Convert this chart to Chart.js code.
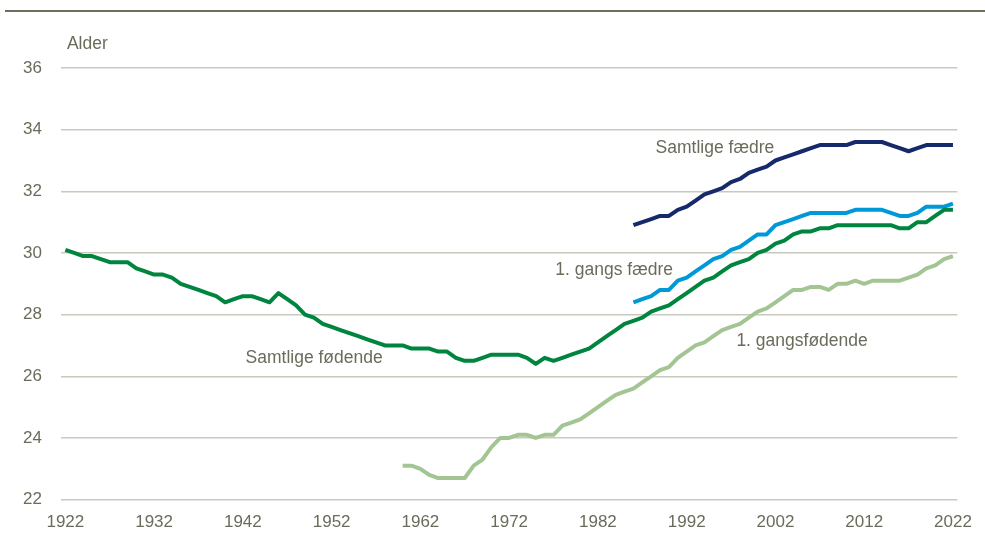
<!DOCTYPE html>
<html>
<head>
<meta charset="utf-8">
<script src="https://cdn.jsdelivr.net/npm/chart.js@4"></script>
<style>
  html, body { margin: 0; padding: 0; background: #fff; overflow: hidden; }
  canvas { display: block; }
</style>
</head>
<body>
<canvas id="graph" width="985" height="534"></canvas>
<script>
// Gennemsnitsalder, år 1922-2022
const xTicks = [1922, 1932, 1942, 1952, 1962, 1972, 1982, 1992, 2002, 2012, 2022];
const yTicks = [22, 24, 26, 28, 30, 32, 34, 36];

const samtligeFodendeStart = 1922;
const samtligeFodende = [
  30.1, 30.0, 29.9, 29.9, 29.8, 29.7, 29.7, 29.7, 29.5, 29.4,
  29.3, 29.3, 29.2, 29.0, 28.9, 28.8, 28.7, 28.6, 28.4, 28.5,
  28.6, 28.6, 28.5, 28.4, 28.7, 28.5, 28.3, 28.0, 27.9, 27.7,
  27.6, 27.5, 27.4, 27.3, 27.2, 27.1, 27.0, 27.0, 27.0, 26.9,
  26.9, 26.9, 26.8, 26.8, 26.6, 26.5, 26.5, 26.6, 26.7, 26.7,
  26.7, 26.7, 26.6, 26.4, 26.6, 26.5, 26.6, 26.7, 26.8, 26.9,
  27.1, 27.3, 27.5, 27.7, 27.8, 27.9, 28.1, 28.2, 28.3, 28.5,
  28.7, 28.9, 29.1, 29.2, 29.4, 29.6, 29.7, 29.8, 30.0, 30.1,
  30.3, 30.4, 30.6, 30.7, 30.7, 30.8, 30.8, 30.9, 30.9, 30.9,
  30.9, 30.9, 30.9, 30.9, 30.8, 30.8, 31.0, 31.0, 31.2, 31.4,
  31.4
];

const forstegangsFodendeStart = 1960;
const forstegangsFodende = [
  23.1, 23.1, 23.0, 22.8, 22.7, 22.7, 22.7, 22.7, 23.1, 23.3,
  23.7, 24.0, 24.0, 24.1, 24.1, 24.0, 24.1, 24.1, 24.4, 24.5,
  24.6, 24.8, 25.0, 25.2, 25.4, 25.5, 25.6, 25.8, 26.0, 26.2,
  26.3, 26.6, 26.8, 27.0, 27.1, 27.3, 27.5, 27.6, 27.7, 27.9,
  28.1, 28.2, 28.4, 28.6, 28.8, 28.8, 28.9, 28.9, 28.8, 29.0,
  29.0, 29.1, 29.0, 29.1, 29.1, 29.1, 29.1, 29.2, 29.3, 29.5,
  29.6, 29.8, 29.9
];

const faedreStart = 1986;
const samtligeFaedre = [
  30.9, 31.0, 31.1, 31.2, 31.2, 31.4, 31.5, 31.7, 31.9, 32.0,
  32.1, 32.3, 32.4, 32.6, 32.7, 32.8, 33.0, 33.1, 33.2, 33.3,
  33.4, 33.5, 33.5, 33.5, 33.5, 33.6, 33.6, 33.6, 33.6, 33.5,
  33.4, 33.3, 33.4, 33.5, 33.5, 33.5, 33.5
];
const forstegangsFaedre = [
  28.4, 28.5, 28.6, 28.8, 28.8, 29.1, 29.2, 29.4, 29.6, 29.8,
  29.9, 30.1, 30.2, 30.4, 30.6, 30.6, 30.9, 31.0, 31.1, 31.2,
  31.3, 31.3, 31.3, 31.3, 31.3, 31.4, 31.4, 31.4, 31.4, 31.3,
  31.2, 31.2, 31.3, 31.5, 31.5, 31.5, 31.6
];

const textColor = "#6b6b5b";
const fontFamily = "'Liberation Sans', Arial, sans-serif";

const toPoints = (start, values) => values.map((v, i) => ({ x: start + i, y: v }));

const line = (label, start, values, color) => ({
  label,
  data: toPoints(start, values),
  borderColor: color,
  backgroundColor: color,
  borderWidth: 4,
  pointRadius: 0,
  tension: 0,
  borderJoinStyle: "round",
  borderCapStyle: "butt"
});

// streg i toppen, "Alder" og serienavne ved linjerne
const decorations = {
  id: "decorations",
  afterDraw(chart) {
    const { ctx, scales } = chart;
    const x = scales.x;
    const y = scales.y;
    ctx.save();
    ctx.fillStyle = "#6f6f5f";
    ctx.fillRect(5, 10, 980, 2);

    ctx.fillStyle = textColor;
    ctx.font = "17.5px " + fontFamily;
    ctx.textBaseline = "middle";
    ctx.textAlign = "left";
    ctx.fillText("Alder", chart.chartArea.left + 6, 44);

    const notes = [
      ["Samtlige fædre", 1988.5, 33.4],
      ["1. gangs fædre", 1977.2, 29.45],
      ["1. gangsfødende", 1997.6, 27.15],
      ["Samtlige fødende", 1942.3, 26.6]
    ];
    notes.forEach(([text, px, py]) => {
      ctx.fillText(text, x.getPixelForValue(px), y.getPixelForValue(py));
    });
    ctx.restore();
  }
};

new Chart(document.getElementById("graph"), {
  type: "line",
  data: {
    datasets: [
      line("Samtlige fødende", samtligeFodendeStart, samtligeFodende, "#00853f"),
      line("1. gangsfødende", forstegangsFodendeStart, forstegangsFodende, "#a3c594"),
      line("1. gangs fædre", faedreStart, forstegangsFaedre, "#0099d8"),
      line("Samtlige fædre", faedreStart, samtligeFaedre, "#15296b")
    ]
  },
  options: {
    responsive: false,
    animation: false,
    layout: { padding: { left: 4, right: 27, top: 68, bottom: -12 } },
    plugins: {
      legend: { display: false },
      tooltip: { enabled: false }
    },
    scales: {
      x: {
        type: "linear",
        min: 1921.5,
        max: 2022.5,
        afterBuildTicks: scale => {
          scale.ticks = xTicks.map(v => ({ value: v }));
        },
        grid: { display: false, drawTicks: false },
        border: { display: false },
        ticks: {
          color: textColor,
          padding: 13,
          maxRotation: 0,
          autoSkip: false,
          font: { family: fontFamily, size: 17 },
          callback: v => String(v)
        }
      },
      y: {
        min: 22,
        max: 36,
        afterBuildTicks: scale => {
          scale.ticks = yTicks.map(v => ({ value: v }));
        },
        grid: { color: "#c9c9bd", lineWidth: 1.5, drawTicks: false },
        border: { display: false },
        ticks: {
          color: textColor,
          padding: 19,
          font: { family: fontFamily, size: 17 }
        }
      }
    }
  },
  plugins: [decorations]
});
</script>
</body>
</html>
